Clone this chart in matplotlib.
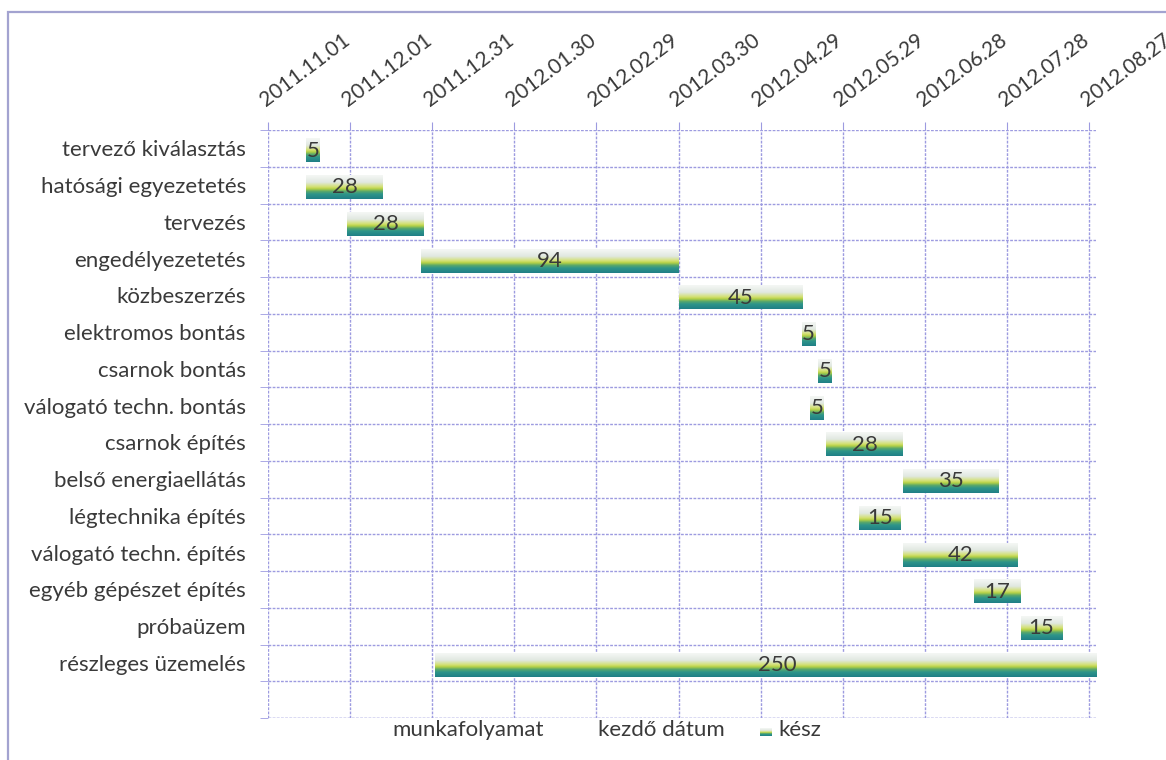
import numpy as np
import pandas as pd
import matplotlib
matplotlib.use("Agg")
import matplotlib.pyplot as plt
from matplotlib.colors import LinearSegmentedColormap
from matplotlib.patches import Rectangle

plt.rcParams['font.family'] = ['Lato', 'DejaVu Sans']

# data
tasks = ["tervező kiválasztás", "hatósági egyezetetés", "tervezés", "engedélyezetetés",
         "közbeszerzés", "elektromos bontás", "csarnok bontás", "válogató techn. bontás",
         "csarnok építés", "belső energiaellátás", "légtechnika építés",
         "válogató techn. építés", "egyéb gépészet építés", "próbaüzem", "részleges üzemelés"]
start_dates = ["2011-11-15", "2011-11-15", "2011-11-30", "2011-12-27",
               "2012-03-30", "2012-05-14", "2012-05-20", "2012-05-17",
               "2012-05-23", "2012-06-20", "2012-06-04",
               "2012-06-20", "2012-07-16", "2012-08-02", "2012-01-01"]
durations = [5, 28, 28, 94, 45, 5, 5, 5, 28, 35, 15, 42, 17, 15, 250]
axis_start = "2011-11-01"
tick_dates = pd.date_range(axis_start, periods=11, freq="30D")

day0 = pd.Timestamp(axis_start)
starts = np.array([(pd.Timestamp(d) - day0).days for d in start_dates])
durations = np.array(durations)
ticks = np.array([(d - day0).days for d in tick_dates])
tick_labels = [d.strftime("%Y.%m.%d") for d in tick_dates]

grid_col = "#9d9be0"
txt_col = "#3a3a3a"

fig = plt.figure(figsize=(11.66, 7.6), dpi=100)
ax = fig.add_axes([268/1166, 1-718/760, (1096-268)/1166, (718-130)/760])

ypos = np.arange(len(tasks)) + 0.06
h = 0.64
bars = ax.barh(ypos, durations, left=starts, height=h, color="#2e8f8c", linewidth=0)

cmap = LinearSegmentedColormap.from_list("gr", [
    (0.0, "#f5f7f5"), (0.3, "#e0e8e0"), (0.5, "#d2e06e"), (0.58, "#b4d046"),
    (0.68, "#5aa86a"), (0.8, "#2e958a"), (1.0, "#1f7f86")])
grad = np.linspace(0, 1, 64).reshape(-1, 1)
for b, s, d, y in zip(bars, starts, durations, ypos):
    ax.imshow(grad, extent=(s, s + d, y + h/2, y - h/2), origin="upper",
              aspect="auto", cmap=cmap, zorder=3)
    ax.text(s + d/2, y, str(d), ha="center", va="center",
            fontsize=16, color=txt_col, zorder=4)

ax.set_xlim(0, 302.5)
ax.set_ylim(15.5, -0.5)

ax.xaxis.tick_top()
ax.set_xticks(ticks)
ax.set_xticklabels(tick_labels, rotation=37, ha="left", va="bottom",
                   rotation_mode="anchor", fontsize=15, color=txt_col)
ax.tick_params(axis="x", which="major", length=6, color=grid_col, pad=8)

ax.set_yticks(np.arange(len(tasks)))
ax.set_yticklabels(tasks, fontsize=16, color=txt_col)
ax.set_yticks(np.arange(-0.5, 16, 1), minor=True)
ax.tick_params(axis="y", which="major", length=0, pad=16)
ax.tick_params(axis="y", which="minor", length=6, color=grid_col)

ax.grid(True, axis="x", which="major", color=grid_col, linestyle=(0, (2, 1)), lw=1.0)
ax.grid(True, axis="y", which="minor", color=grid_col, linestyle=(0, (2, 1)), lw=1.0)
ax.set_axisbelow(True)
for side in ["right", "bottom", "top", "left"]:
    ax.spines[side].set_visible(False)
ax.axhline(15.5, color=grid_col, linestyle=(0, (2, 1)), lw=1.0)

# legend at the bottom
fig.text(392/1166, 1-730/760, "munkafolyamat", fontsize=16, color=txt_col, va="center")
fig.text(598/1166, 1-730/760, "kezdő dátum", fontsize=16, color=txt_col, va="center")
fig.text(778/1166, 1-730/760, "kész", fontsize=16, color=txt_col, va="center")
sw = fig.add_axes([760/1166, 1-736/760, 12/1166, 8/760])
sw.imshow(grad, aspect="auto", cmap=cmap)
sw.axis("off")

# outer chart border
fig.patches.append(Rectangle((8/1166, -0.05), 1.1, 1-12/760+0.05, transform=fig.transFigure,
                             fill=False, edgecolor="#a3a3d0", lw=1.6))

fig.savefig("out.png", dpi=100)
